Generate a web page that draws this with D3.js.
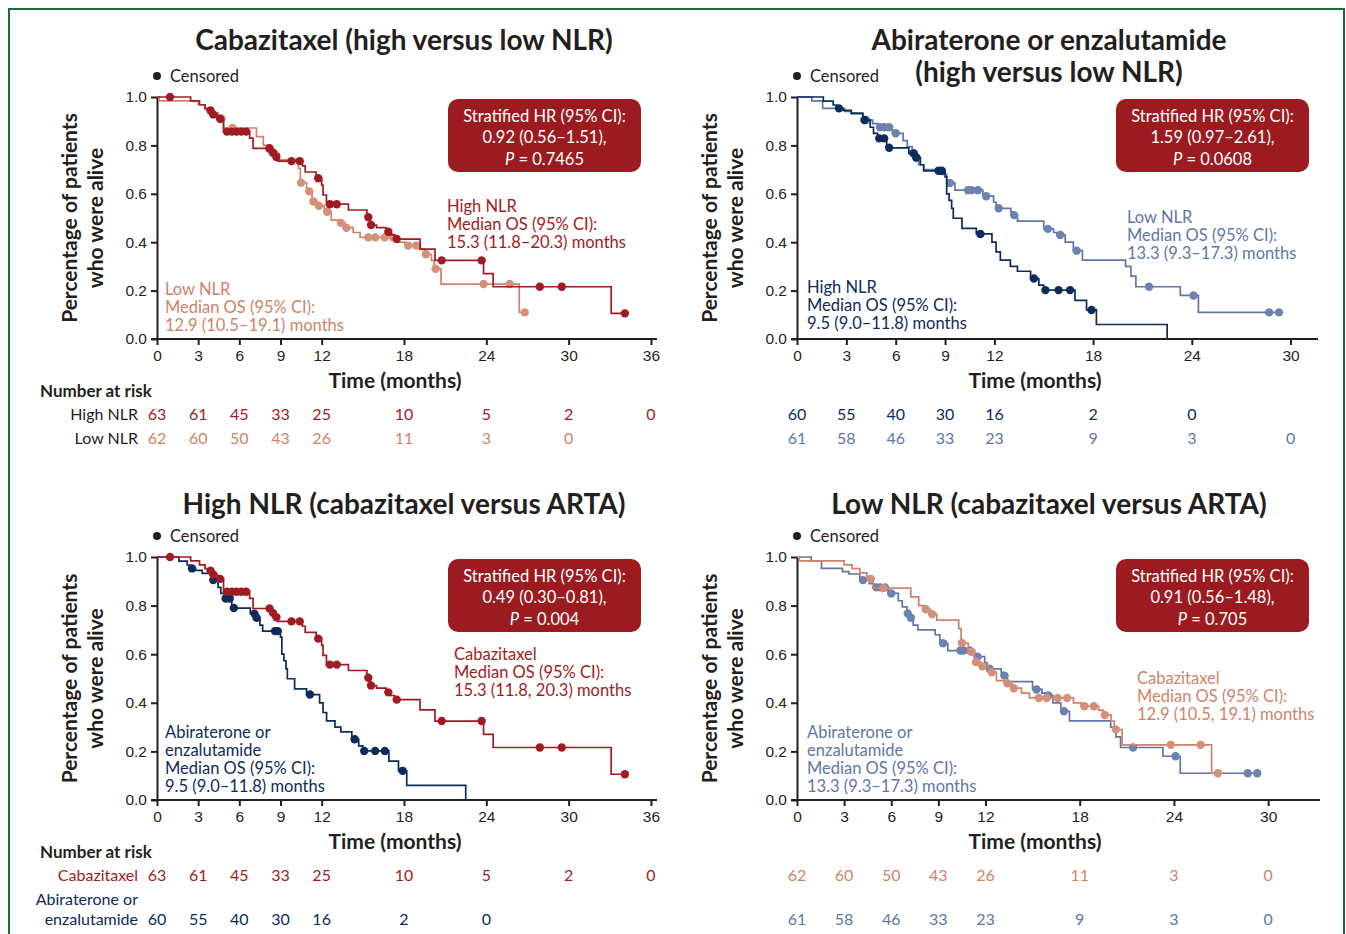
<!DOCTYPE html>
<html lang="en">
<head>
<meta charset="UTF-8">
<title>Overall survival by NLR</title>
<script src="https://d3js.org/d3.v7.min.js"></script>
<style>
  body { margin: 0; background: #fff; }
  svg { display: block; font-family: Lato, "Open Sans", sans-serif; }
</style>
</head>
<body>
<svg id="chart" width="1346" height="934"></svg>
<script>
// ---- data: [time (months), survival] steps + censor times ----
const cabHighSteps = [[0,1.0],[2.45,0.984],[3.1,0.968],[3.5,0.952],[3.85,0.944],[4.05,0.928],[4.4,0.91],
  [4.85,0.857],[6.75,0.83],[7.0,0.788],[8.3,0.77],[8.6,0.752],[8.8,0.735],[10.6,0.715],[10.8,0.69],
  [11.6,0.664],[12.0,0.636],[12.1,0.595],[12.35,0.557],[13.95,0.533],[15.3,0.503],[15.5,0.471],
  [16.0,0.46],[16.7,0.443],[17.0,0.43],[17.3,0.413],[19.17,0.371],[20.26,0.325],[23.8,0.27],
  [24.5,0.216],[33.1,0.106]];
const cabHighCensored = [0.95,3.9,4.1,4.6,5.1,5.45,5.8,6.15,6.5,8.2,8.45,8.7,9.8,10.4,11.75,12.6,13.1,
  15.4,15.6,16.86,17.47,20.75,23.66,27.9,29.5,34.1];

const cabLowSteps = [[0,1.0],[0.15,0.984],[3.0,0.968],[3.5,0.952],[4.0,0.935],[4.45,0.91],[4.85,0.872],
  [7.25,0.836],[7.75,0.8],[8.1,0.785],[8.5,0.765],[8.9,0.74],[10.3,0.705],[10.45,0.646],[10.9,0.61],
  [11.3,0.568],[11.7,0.55],[12.2,0.526],[12.7,0.491],[13.2,0.48],[13.7,0.46],[14.3,0.44],[14.8,0.42],
  [17.6,0.4],[18.1,0.386],[19.2,0.37],[19.5,0.35],[20.0,0.325],[20.2,0.29],[20.7,0.227],[26.4,0.11]];
const cabLowCensored = [4.7,5.5,8.2,8.6,10.5,11.1,11.4,11.8,12.4,13.4,13.8,15.4,15.9,16.6,17.2,18.3,18.9,
  19.6,20.3,23.8,25.7,26.8];

const artaHighSteps = [[0,1.0],[1.6,0.983],[2.2,0.967],[2.4,0.953],[2.8,0.945],[3.3,0.933],[4.0,0.905],
  [4.45,0.875],[4.65,0.85],[4.9,0.829],[5.45,0.79],[6.8,0.767],[7.15,0.75],[7.5,0.72],[7.7,0.695],
  [9.0,0.67],[9.1,0.6],[9.25,0.573],[9.4,0.54],[9.5,0.499],[10.03,0.457],[10.9,0.434],[11.85,0.4],
  [12.1,0.36],[12.36,0.326],[12.97,0.3],[13.4,0.28],[14.2,0.25],[14.7,0.223],[15.0,0.202],[16.9,0.16],
  [17.6,0.12],[18.2,0.06],[22.5,0.0]];
const artaHighCensored = [2.55,4.1,5.0,5.3,5.6,7.1,7.25,8.6,8.8,11.15,14.4,15.1,15.9,16.6,17.9];

const artaLowSteps = [[0,1.0],[0.9,0.984],[1.56,0.953],[2.9,0.94],[3.3,0.93],[4.0,0.905],[4.6,0.89],
  [4.9,0.875],[5.8,0.85],[6.45,0.82],[6.7,0.795],[7.0,0.768],[7.2,0.75],[7.4,0.72],[7.7,0.7],[8.8,0.68],
  [9.1,0.645],[9.6,0.615],[11.3,0.59],[11.95,0.565],[12.1,0.54],[13.0,0.525],[13.1,0.512],[13.4,0.487],
  [15.0,0.455],[15.6,0.44],[15.8,0.43],[16.3,0.4],[16.8,0.365],[17.35,0.326],[19.97,0.3],[20.3,0.26],
  [20.6,0.216],[23.3,0.18],[24.4,0.11]];
const artaLowCensored = [4.2,5.05,5.3,5.6,6.0,7.05,7.25,9.3,10.4,10.6,11.0,11.5,12.26,13.2,15.25,16.0,
  17.0,21.4,24.1,28.7,29.3];

// number at risk
const riskCabHigh = [63,61,45,33,25,10,5,2,0];
const riskCabLow = [62,60,50,43,26,11,3,0];
const riskArtaHigh = [60,55,40,30,16,2,0];
const riskArtaLow = [61,58,46,33,23,9,3,0];

const ticksLeft = [0,3,6,9,12,18,24,30,36];
const ticksRight = [0,3,6,9,12,18,24,30];
const yTicks = [0,0.2,0.4,0.6,0.8,1.0];

const colors = {
  red: "#a01c23", salmon: "#d0836a", navy: "#0c2c5a", slate: "#6276a8", box: "#9b1b20", text: "#231f20"
};

const svg = d3.select("#chart");

// green frame
svg.append("rect").attr("x", 9).attr("y", 9).attr("width", 1335).attr("height", 940)
  .attr("fill", "none").attr("stroke", "#1d6a3b").attr("stroke-width", 2);

function lines(g, arr, x, y, dy, color, opts = {}) {
  const t = g.append("text").attr("x", x).attr("y", y).attr("fill", color)
    .attr("font-size", opts.size || 16.5).attr("font-weight", opts.weight || 400)
    .attr("text-anchor", opts.anchor || "start");
  arr.forEach((s, i) => t.append("tspan").attr("x", x).attr("dy", i === 0 ? "0.35em" : dy).text(s));
  return t;
}

function survivalAt(steps, t) {
  let s = steps[0][1];
  steps.forEach(d => { if (d[0] <= t) s = d[1]; });
  return s;
}

function drawPanel(p) {
  const g = svg.append("g");
  const x = d3.scaleLinear().domain([0, p.tmax]).range([p.left, p.right]);
  const y = d3.scaleLinear().domain([0, 1]).range([p.bottom, p.top]);

  // titles
  p.title.forEach((s, i) => g.append("text").attr("x", p.titleX).attr("y", p.titleY + i * 32)
    .attr("dy", "0.35em").attr("text-anchor", "middle").attr("font-size", 28)
    .attr("font-weight", 700).attr("fill", colors.text).text(s));

  // censored legend
  g.append("circle").attr("cx", p.left).attr("cy", p.top - 21).attr("r", 4).attr("fill", colors.text);
  g.append("text").attr("x", p.left + 13).attr("y", p.top - 21).attr("dy", "0.35em")
    .attr("font-size", 16.5).attr("fill", colors.text).text("Censored");

  // axes
  const xAxis = g.append("g").attr("transform", `translate(0,${p.bottom})`)
    .call(d3.axisBottom(x).tickValues(p.ticks).tickSize(6).tickSizeOuter(0).tickPadding(5));
  const yAxis = g.append("g").attr("transform", `translate(${p.left},0)`)
    .call(d3.axisLeft(y).tickValues(yTicks).tickFormat(d3.format(".1f")).tickSize(6).tickSizeOuter(0).tickPadding(4));
  [xAxis, yAxis].forEach(a => {
    a.selectAll("path, line").attr("stroke", colors.text).attr("stroke-width", 2);
    a.selectAll("text").attr("font-size", 15.5).attr("fill", colors.text).attr("font-family", null);
  });
  xAxis.select(".domain").attr("d", `M${p.left - 6},0H${p.right}`);

  g.append("text").attr("x", p.xLabelX).attr("y", p.bottom + 42).attr("dy", "0.35em")
    .attr("text-anchor", "middle").attr("font-size", 21).attr("font-weight", 700)
    .attr("fill", colors.text).text("Time (months)");

  const yl = g.append("text").attr("transform", `translate(${p.left - 87},${(p.top + p.bottom) / 2}) rotate(-90)`)
    .attr("text-anchor", "middle").attr("font-size", 21).attr("font-weight", 700).attr("fill", colors.text);
  yl.append("tspan").attr("x", 0).attr("dy", "0.35em").text("Percentage of patients");
  yl.append("tspan").attr("x", 0).attr("dy", 26).text("who were alive");

  // curves
  const line = d3.line().x(d => x(d[0])).y(d => y(d[1])).curve(d3.curveStepAfter);
  p.curves.forEach(c => {
    const end = Math.max(c.steps[c.steps.length - 1][0], d3.max(c.censored));
    const pts = c.steps.concat([[end, c.steps[c.steps.length - 1][1]]]);
    g.append("path").attr("d", line(pts)).attr("fill", "none").attr("stroke", c.color).attr("stroke-width", 1.7);
    g.selectAll(null).data(c.censored).enter().append("circle")
      .attr("cx", d => x(d)).attr("cy", d => y(survivalAt(c.steps, d)))
      .attr("r", 4.2).attr("fill", c.dot || c.color);
  });

  // HR box
  const bx = p.boxX, by = p.top + 2;
  g.append("rect").attr("x", bx).attr("y", by).attr("width", 193).attr("height", 73).attr("rx", 10)
    .attr("fill", colors.box);
  const cx = bx + 96.5;
  ["Stratified HR (95% CI):", p.hr].forEach((s, i) => g.append("text").attr("x", cx)
    .attr("y", by + 17 + i * 21).attr("dy", "0.35em").attr("text-anchor", "middle").attr("font-size", 16.5)
    .attr("fill", "#fff").text(s));
  const pt = g.append("text").attr("x", cx).attr("y", by + 60).attr("dy", "0.35em").attr("text-anchor", "middle")
    .attr("font-size", 16.5).attr("fill", "#fff");
  pt.append("tspan").attr("font-style", "italic").text("P");
  pt.append("tspan").text(" = " + p.pval);

  // median annotations
  p.notes.forEach(n => lines(g, n.text, n.x, n.y, 18, n.color));

  // number at risk
  if (p.riskTitle) {
    g.append("text").attr("x", 40).attr("y", p.bottom + 52).attr("dy", "0.35em").attr("font-size", 17)
      .attr("font-weight", 700).attr("fill", colors.text).text("Number at risk");
  }
  p.risk.forEach(r => {
    if (r.label) lines(g, r.label, 138, r.labelY, r.labelDy || 20, r.labelColor, { anchor: "end", size: 16 });
    g.selectAll(null).data(r.values).enter().append("text")
      .attr("x", (d, i) => x(p.ticks[i])).attr("y", r.y).attr("dy", "0.35em")
      .attr("text-anchor", "middle").attr("font-size", 16).attr("fill", r.color).text(d => d);
  });
}

const panels = [
  {
    left: 157, right: 657, top: 97, bottom: 339, tmax: 36.44, ticks: ticksLeft, boxX: 448,
    title: ["Cabazitaxel (high versus low NLR)"], titleX: 404, titleY: 40, xLabelX: 395,
    curves: [
      { steps: cabLowSteps, censored: cabLowCensored, color: colors.salmon, dot: "#d49078" },
      { steps: cabHighSteps, censored: cabHighCensored, color: colors.red }
    ],
    hr: "0.92 (0.56\u20131.51),", pval: "0.7465",
    notes: [
      { text: ["High NLR", "Median OS (95% CI):", "15.3 (11.8\u201320.3) months"], x: 447, y: 206, color: colors.red },
      { text: ["Low NLR", "Median OS (95% CI):", "12.9 (10.5\u201319.1) months"], x: 165, y: 289, color: colors.salmon }
    ],
    riskTitle: true,
    risk: [
      { label: ["High NLR"], labelY: 414, labelColor: colors.text, values: riskCabHigh, y: 414, color: colors.red },
      { label: ["Low NLR"], labelY: 438, labelColor: colors.text, values: riskCabLow, y: 438, color: colors.salmon }
    ]
  },
  {
    left: 797, right: 1318, top: 97, bottom: 339, tmax: 31.67, ticks: ticksRight, boxX: 1116,
    title: ["Abiraterone or enzalutamide", "(high versus low NLR)"], titleX: 1049, titleY: 40, xLabelX: 1035,
    curves: [
      { steps: artaLowSteps, censored: artaLowCensored, color: colors.slate, dot: "#6e82b0" },
      { steps: artaHighSteps, censored: artaHighCensored, color: colors.navy }
    ],
    hr: "1.59 (0.97\u20132.61),", pval: "0.0608",
    notes: [
      { text: ["Low NLR", "Median OS (95% CI):", "13.3 (9.3\u201317.3) months"], x: 1127, y: 217, color: colors.slate },
      { text: ["High NLR", "Median OS (95% CI):", "9.5 (9.0\u201311.8) months"], x: 807, y: 287, color: colors.navy }
    ],
    risk: [
      { values: riskArtaHigh, y: 414, color: colors.navy },
      { values: riskArtaLow, y: 438, color: colors.slate }
    ]
  },
  {
    left: 157, right: 657, top: 557, bottom: 800, tmax: 36.44, ticks: ticksLeft, boxX: 448,
    title: ["High NLR (cabazitaxel versus ARTA)"], titleX: 404, titleY: 504, xLabelX: 395,
    curves: [
      { steps: artaHighSteps, censored: artaHighCensored, color: colors.navy },
      { steps: cabHighSteps, censored: cabHighCensored, color: colors.red }
    ],
    hr: "0.49 (0.30\u20130.81),", pval: "0.004",
    notes: [
      { text: ["Cabazitaxel", "Median OS (95% CI):", "15.3 (11.8, 20.3) months"], x: 454, y: 654, color: colors.red },
      { text: ["Abiraterone or", "enzalutamide", "Median OS (95% CI):", "9.5 (9.0\u201311.8) months"], x: 165, y: 732, color: colors.navy }
    ],
    riskTitle: true,
    risk: [
      { label: ["Cabazitaxel"], labelY: 875, labelColor: colors.red, values: riskCabHigh, y: 875, color: colors.red },
      { label: ["Abiraterone or", "enzalutamide"], labelY: 899, labelDy: 20, labelColor: colors.navy,
        values: riskArtaHigh, y: 919, color: colors.navy }
    ]
  },
  {
    left: 797, right: 1320, top: 557, bottom: 800, tmax: 33.3, ticks: ticksRight, boxX: 1116,
    title: ["Low NLR (cabazitaxel versus ARTA)"], titleX: 1049, titleY: 504, xLabelX: 1035,
    curves: [
      { steps: artaLowSteps, censored: artaLowCensored, color: colors.slate, dot: "#6e82b0" },
      { steps: cabLowSteps, censored: cabLowCensored, color: colors.salmon, dot: "#d49078" }
    ],
    hr: "0.91 (0.56\u20131.48),", pval: "0.705",
    notes: [
      { text: ["Cabazitaxel", "Median OS (95% CI):", "12.9 (10.5, 19.1) months"], x: 1137, y: 678, color: colors.salmon },
      { text: ["Abiraterone or", "enzalutamide", "Median OS (95% CI):", "13.3 (9.3\u201317.3) months"], x: 807, y: 732, color: colors.slate }
    ],
    risk: [
      { values: riskCabLow, y: 875, color: colors.salmon },
      { values: riskArtaLow, y: 919, color: colors.slate }
    ]
  }
];

panels.forEach(drawPanel);
</script>
</body>
</html>
